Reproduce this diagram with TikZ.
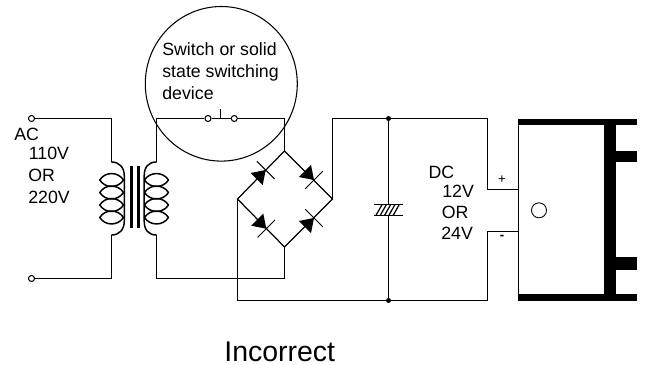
\documentclass[tikz,border=0pt]{standalone}
\usepackage{fontspec}
\setmainfont{Liberation Sans}
\tikzset{
  wire/.style={line width=0.7pt, line join=miter},
  coil/.style={line width=0.85pt, line join=round},
  term/.style={circle, draw, line width=0.6pt, fill=white, minimum size=0.12cm, inner sep=0pt},
  junction/.style={circle, fill=black, minimum size=0.1cm, inner sep=0pt},
  lbl/.style={anchor=base west, inner sep=0pt, font=\fontsize{10.1}{12.6}\selectfont},
  blackbar/.style={fill=black, draw=none}
}
\begin{document}
\begin{tikzpicture}[x=0.02cm, y=-0.02cm]
  \useasboundingbox (0,0) rectangle (647,365);

  % mains side
  \node[term] (acTop) at (31.5,118.5) {};
  \node[term] (acBot) at (31.5,278.5) {};
  \coordinate (priTop) at (111.5,162);
  \coordinate (priBot) at (111.5,235);
  \coordinate (secTop) at (156.5,162);
  \coordinate (secBot) at (156.5,235);
  \draw[wire] (acTop) -| (priTop);
  \draw[wire] (acBot) -| (priBot);

  % transformer
  \draw[coil] (priTop) .. controls (119,162) and (124.3,167) .. (124.3,176) -- (124.3,221) .. controls (124.3,230) and (119,235) .. (priBot);
  \draw[coil] (secTop) .. controls (148.5,162) and (144.2,167) .. (144.2,176) -- (144.2,221) .. controls (144.2,230) and (148.5,235) .. (secBot);
  \foreach \y in {180,192.5,205,217.5} {
    \draw[coil] (99.8,\y) .. controls (105,\y-8.6) and (118,\y-8.6) .. (123.5,\y) .. controls (118,\y+8.6) and (105,\y+8.6) .. cycle;
    \draw[coil] (168.5,\y) .. controls (163,\y-8.6) and (150,\y-8.6) .. (144.5,\y) .. controls (150,\y+8.6) and (163,\y+8.6) .. cycle;
  }
  \fill[blackbar] (130,166) rectangle (132.7,228);
  \fill[blackbar] (137.3,166) rectangle (140,228);

  % switch
  \draw[line width=0.6pt] (221.3,83.8) ellipse (76 and 77.3);
  \node[term] (swA) at (208,118.5) {};
  \node[term] (swB) at (234.3,118.5) {};
  \coordinate (swPost) at (220.5,109);
  \coordinate (swFoot) at (220.5,118.5);
  \draw[wire] (swA) -- (swB);
  \draw[wire] (swPost) -- (swFoot);

  % bridge
  \coordinate (brTop) at (284.5,151);
  \coordinate (brLeft) at (237.5,199);
  \coordinate (brRight) at (332.5,199);
  \coordinate (brBot) at (284.5,247);
  \draw[wire] (brTop) -- (brRight) -- (brBot) -- (brLeft) -- cycle;
  \draw[wire] (secTop) |- (swA);
  \draw[wire] (swB) -| (brTop);
  \draw[wire] (secBot) |- (284.5,278.5) -- (brBot);

  \coordinate (dTL) at (265.7,170);
  \coordinate (dTR) at (314,180);
  \coordinate (dBL) at (266.3,228.7);
  \coordinate (dBR) at (314,218);
  \foreach \tip/\dx/\dy in {dTL/1/-1, dTR/1/1, dBL/1/1, dBR/1/-1} {
    \fill (\tip) -- ++(-9.1*\dx-6.1*\dy, -9.1*\dy+6.1*\dx) -- ++(12.2*\dy, -12.2*\dx) -- cycle;
    \draw[line width=0.6pt] (\tip) ++(-8.8*\dy, 8.8*\dx) -- ++(17.6*\dy, -17.6*\dx);
  }

  % DC side
  \node[junction] (capTop) at (388.5,118.5) {};
  \node[junction] (capBot) at (388.5,300.5) {};
  \coordinate (dcTop) at (487.5,118.5);
  \coordinate (dcBot) at (487.5,300.5);
  \coordinate (motPlus) at (518.5,189.5);
  \coordinate (motMinus) at (518.5,231.5);
  \draw[wire] (brRight) |- (capTop) -- (dcTop) |- (motPlus);
  \draw[wire] (brLeft) |- (capBot) -- (dcBot) |- (motMinus);

  % capacitor
  \coordinate (plateA) at (388.5,204.7);
  \coordinate (plateB) at (388.5,215.3);
  \draw[wire] (capTop) -- (plateA);
  \draw[wire] (plateB) -- (capBot);
  \draw[line width=0.6pt] (374,204.7) -- (403,204.7);
  \draw[line width=0.6pt] (374,215.3) -- (403,215.3);
  \foreach \x in {376,380.3,384.6,388.9,393.2} {
    \draw[line width=0.7pt] (\x,215.3) -- (\x+6,204.7);
  }

  % motor
  \fill[blackbar] (518,119) rectangle (637,125);
  \fill[blackbar] (518,294.3) rectangle (637,301);
  \fill[blackbar] (604,125) rectangle (616,294.3);
  \fill[blackbar] (616,150.7) rectangle (637,162.3);
  \fill[blackbar] (616,257) rectangle (637,269.7);
  \draw[line width=0.6pt] (518.5,125) -- (518.5,294.3);
  \draw[line width=0.5pt] (539,210.3) circle (7.5);

  % labels
  \node[lbl] (swText) at (162,55) {Switch or solid};
  \node[lbl] (swTextB) at (162,77.5) {state switching};
  \node[lbl] (swTextC) at (162,99) {device};
  \node[lbl] (acText) at (14,140.5) {AC};
  \node[lbl] (acVa) at (28.5,159) {110V};
  \node[lbl] (acOr) at (28,181.5) {OR};
  \node[lbl] (acVb) at (28,203.5) {220V};
  \node[lbl] (dcText) at (428.3,178) {DC};
  \node[lbl] (dcVa) at (442,197) {12V};
  \node[lbl] (dcOr) at (441.5,218.5) {OR};
  \node[lbl] (dcVb) at (441,239.5) {24V};
  \node[font=\fontsize{7.5}{9}\selectfont, inner sep=0pt] (plus) at (502,180) {+};
  \node[font=\fontsize{7.5}{9}\selectfont\bfseries, inner sep=0pt] (minus) at (502,237) {-};
  \node[anchor=base west, inner sep=0pt, font=\fontsize{16.2}{20}\selectfont] (caption) at (224,361) {Incorrect};
\end{tikzpicture}
\end{document}
